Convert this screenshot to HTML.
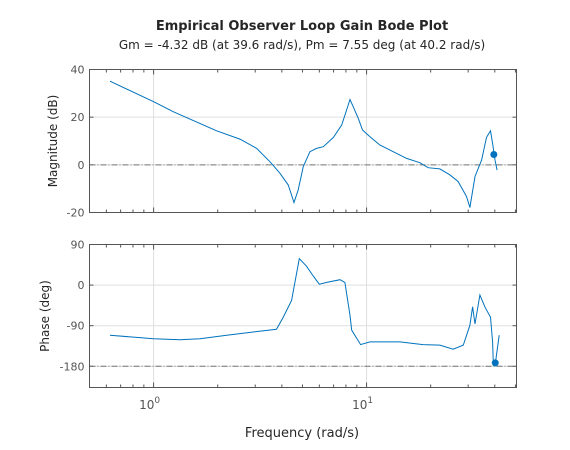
<!DOCTYPE html>
<html><head><meta charset="utf-8"><style>
body{margin:0;background:#fff;}
svg{display:block;font-family:"DejaVu Sans","Liberation Sans",sans-serif;}
</style></head><body>
<svg id="c" width="570" height="450" viewBox="0 0 570 450">
<text x="302" y="30" text-anchor="middle" font-size="13" font-weight="bold" fill="#262626">Empirical Observer Loop Gain Bode Plot</text>
<text x="302" y="49" text-anchor="middle" font-size="12" fill="#262626">Gm = -4.32 dB (at 39.6 rad/s),  Pm = 7.55 deg (at 40.2 rad/s)</text>
<text transform="translate(57,141) rotate(-90)" text-anchor="middle" font-size="12" fill="#262626">Magnitude (dB)</text>
<text transform="translate(49,316) rotate(-90)" text-anchor="middle" font-size="12" fill="#262626">Phase (deg)</text>
<text x="302" y="437" text-anchor="middle" font-size="13" fill="#262626">Frequency (rad/s)</text>
</svg>
<script>
const magLogF=[-0.205,0,0.092,0.296,0.405,0.484,0.546,0.593,0.632,0.659,0.679,0.703,0.734,0.765,0.797,0.844,0.883,0.906,0.922,0.937,0.961,0.981,1.016,1.063,1.125,1.188,1.25,1.289,1.344,1.391,1.43,1.469,1.485,1.509,1.54,1.563,1.582,1.592,1.603,1.613];
const magDb=[35.1,26.5,22.3,14.3,10.8,6.9,1.3,-3.5,-8.4,-15.8,-10.5,-0.7,5.5,6.9,7.6,11.5,16.7,23.0,27.4,24.4,19.5,14.6,11.8,8.3,5.5,2.7,0.9,-1.2,-1.7,-4.2,-7.0,-13.3,-17.9,-4.9,2.0,11.5,14.3,9.0,2.0,-2.2];
const phLogF=[-0.205,-0.08,0,0.124,0.218,0.343,0.468,0.577,0.609,0.648,0.684,0.718,0.75,0.778,0.813,0.875,0.898,0.922,0.93,0.972,1.016,1.156,1.265,1.344,1.407,1.454,1.485,1.498,1.509,1.532,1.556,1.582,1.592,1.595,1.607,1.623];
const phDeg=[-111,-116,-119,-121,-119,-111,-104,-98,-71,-34,58.5,42,20,2,6,12,6,-67,-100,-132,-126,-126,-132,-133,-142,-133,-89,-48,-86,-22,-49,-71,-126,-173,-166,-111];
const gmPoint=[39.6,4.32];
const pmPoint=[40.2,-172.45];
const magTicks=[40,20,0,-20];
const phTicks=[90,0,-90,-180];
const xMajor=[0,1];

const svg=document.getElementById('c');
const NS='http://www.w3.org/2000/svg';
const X0=89.5,X1=516.5,L0=Math.log10(0.5),L1=1.704;
const xs=l=>X0+(l-L0)/(L1-L0)*(X1-X0);
function mk(t,a,p){const e=document.createElementNS(NS,t);for(const k in a)e.setAttribute(k,a[k]);(p||svg).appendChild(e);return e;}
const panels=[
 {top:69.5,bot:212.5,ymax:40,ymin:-20,ticks:magTicks,ref:0,lf:magLogF,v:magDb,pt:[Math.log10(gmPoint[0]),gmPoint[1]],nm:'magnitude'},
 {top:244.5,bot:387.5,ymax:90,ymin:-227,ticks:phTicks,ref:-180,lf:phLogF,v:phDeg,pt:[Math.log10(pmPoint[0]),pmPoint[1]],nm:'phase'}];
panels.forEach(P=>{
 const ys=v=>P.top+(P.ymax-v)/(P.ymax-P.ymin)*(P.bot-P.top);
 const g=mk('g',{});
 
 
 mk('rect',{x:X0,y:P.top,width:X1-X0,height:P.bot-P.top,fill:'#fff'},g);
 xMajor.forEach(l=>{mk('line',{x1:xs(l),x2:xs(l),y1:P.top,y2:P.bot,stroke:'#dfdfdf','stroke-width':1},g);});
 P.ticks.forEach(t=>{const y=ys(t);
  mk('line',{x1:X0,x2:X1,y1:y,y2:y,stroke:'#dfdfdf'},g);
  mk('line',{x1:X0,x2:X0+4,y1:y,y2:y,stroke:'#555'},g);
  mk('line',{x1:X1-4,x2:X1,y1:y,y2:y,stroke:'#555'},g);
  const tx=mk('text',{x:X0-5,y:y+4,'text-anchor':'end','font-size':11,fill:'#555'},g);tx.textContent=t;
  
  
 });
 for(let d=-1;d<=1;d++)for(let m=1;m<10;m++){const l=d+Math.log10(m);if(l<L0||l>L1)continue;const x=xs(l),len=m===1?5:3;
  mk('line',{x1:x,x2:x,y1:P.bot-len,y2:P.bot,stroke:'#555'},g);mk('line',{x1:x,x2:x,y1:P.top,y2:P.top+len,stroke:'#555'},g);}
 mk('line',{x1:X0,x2:X1,y1:ys(P.ref),y2:ys(P.ref),stroke:'#777','stroke-dasharray':'6 2 1 2'},g);
 mk('rect',{x:X0,y:P.top,width:X1-X0,height:P.bot-P.top,fill:'none',stroke:'#555'},g);
 const pts=P.lf.map((l,i)=>xs(l).toFixed(1)+','+ys(P.v[i]).toFixed(1)).join(' ');
 const pl=mk('polyline',{points:pts,fill:'none',stroke:'#0072bd','stroke-width':1},g);
 
 
 const c=mk('circle',{cx:xs(P.pt[0]),cy:ys(P.pt[1]),r:3.5,fill:'#0072bd'},g);
 
 
});
xMajor.forEach(l=>{const t=mk('text',{x:xs(l)-4,y:409,'text-anchor':'middle','font-size':12,fill:'#555'});
 t.innerHTML='10<tspan dy="-6" font-size="9">'+l+'</tspan>';
 
 });
</script>
</body></html>
